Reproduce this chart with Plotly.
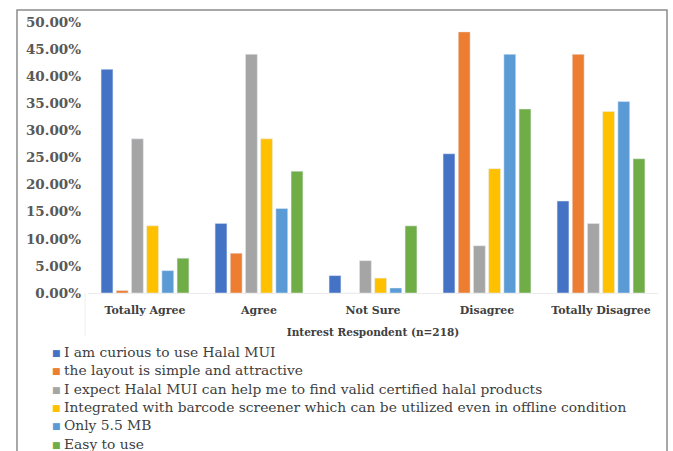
import plotly.graph_objects as go

categories = ["Totally Agree", "Agree", "Not Sure", "Disagree", "Totally Disagree"]

series_names = [
    "I am curious to use Halal MUI",
    "the layout is simple and attractive",
    "I expect Halal MUI can help me to find valid certified halal products",
    "Integrated with barcode screener which can be utilized even in offline condition",
    "Only 5.5 MB",
    "Easy to use",
]

curious = [0.4128, 0.1284, 0.0321, 0.2569, 0.1697]
layout_simple = [0.0046, 0.0734, 0.0, 0.4817, 0.4404]
expect_valid = [0.2844, 0.4404, 0.0596, 0.0872, 0.1284]
barcode_offline = [0.1239, 0.2844, 0.0275, 0.2294, 0.3349]
only_small = [0.0413, 0.1560, 0.0092, 0.4404, 0.3532]
easy_use = [0.0642, 0.2248, 0.1239, 0.3394, 0.2477]

series_values = [curious, layout_simple, expect_valid, barcode_offline, only_small, easy_use]
colors = ["#4472C4", "#ED7D31", "#A5A5A5", "#FFC000", "#5B9BD5", "#70AD47"]

serif = "DejaVu Serif, Liberation Serif, serif"

# plot-area geometry in pixels (used to place the hand-drawn legend)
W, H = 673, 451
ML, MR, MT, MB = 88, 15, 22, 158
PW, PH = W - ML - MR, H - MT - MB


def px_to_paper(px, py):
    return (px - ML) / PW, (H - MB - py) / PH


fig = go.Figure()
for name, vals, col in zip(series_names, series_values, colors):
    fig.add_trace(go.Bar(x=categories, y=vals, name=name, marker_color=col, showlegend=False))

# legend rows: small colored square followed by the series name
annotations = []
row0, row_step = 352, 18.3
for i, (name, col) in enumerate(zip(series_names, colors)):
    py = row0 + i * row_step
    mx, my = px_to_paper(56, py + 1)
    tx, ty = px_to_paper(62, py)
    annotations.append(dict(
        x=mx, y=my, xref="paper", yref="paper", text="■", showarrow=False,
        xanchor="center", yanchor="middle",
        font=dict(family="DejaVu Sans", size=9, color=col),
    ))
    annotations.append(dict(
        x=tx, y=ty, xref="paper", yref="paper", text=name, showarrow=False,
        xanchor="left", yanchor="middle",
        font=dict(family=serif, size=13.8, color="#404040"),
    ))

fx0, fy1 = px_to_paper(17, 10)
fx1, fy0 = px_to_paper(667, 470)
vx, vy0 = px_to_paper(85, 293)
_, vy1 = px_to_paper(85, 336)

fig.update_layout(
    width=W,
    height=H,
    margin=dict(l=ML, r=MR, t=MT, b=MB),
    paper_bgcolor="white",
    plot_bgcolor="white",
    barmode="group",
    bargap=0.2,
    bargroupgap=0.22,
    showlegend=False,
    annotations=annotations,
    xaxis=dict(
        tickfont=dict(family=serif, size=11, color="#404040", weight="bold"),
        ticklabelstandoff=7,
        title=dict(
            text="Interest Respondent (n=218)",
            font=dict(family=serif, size=10.5, color="#404040", weight="bold"),
            standoff=12,
        ),
        showline=True,
        linecolor="#ececec",
        linewidth=1,
        ticks="",
        automargin=False,
    ),
    yaxis=dict(
        range=[0, 0.5],
        dtick=0.05,
        tickformat=".2%",
        tickfont=dict(family=serif, size=13.5, color="#595959", weight="bold"),
        ticklabelstandoff=6,
        showgrid=False,
        zeroline=False,
        ticks="",
        automargin=False,
    ),
    shapes=[
        dict(
            type="rect", xref="paper", yref="paper",
            x0=fx0, x1=fx1, y0=fy0, y1=fy1,
            line=dict(color="#8c8c8c", width=1.5),
            fillcolor="rgba(0,0,0,0)", layer="below",
        ),
        dict(
            type="line", xref="paper", yref="paper",
            x0=vx, x1=vx, y0=vy0, y1=vy1,
            line=dict(color="#eeeeee", width=1),
        ),
    ],
)

fig.write_html("out.html")
